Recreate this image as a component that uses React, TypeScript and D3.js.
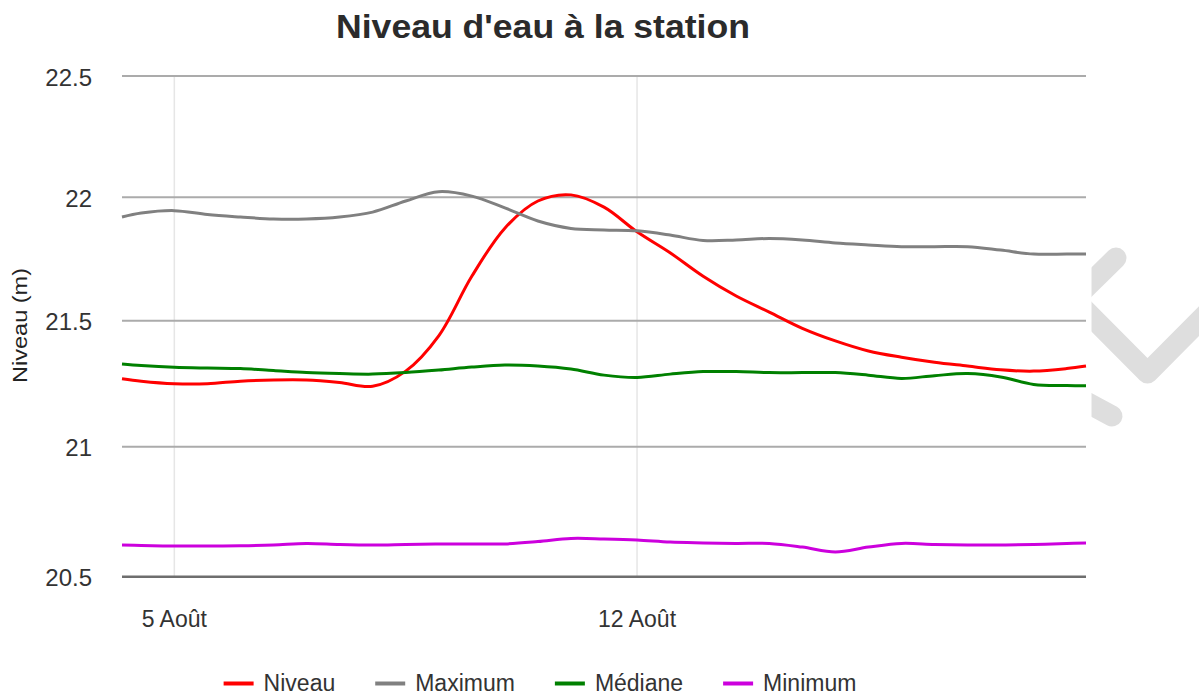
import React from "react";
import * as d3 from "d3";

// relevés toutes les 12 h (bords du graphique aux extrémités)
const dates = [
  "2019-08-04 05:00", "2019-08-04 12:00", "2019-08-05 00:00", "2019-08-05 12:00",
  "2019-08-06 00:00", "2019-08-06 12:00", "2019-08-07 00:00", "2019-08-07 12:00",
  "2019-08-08 00:00", "2019-08-08 12:00", "2019-08-09 00:00", "2019-08-09 12:00",
  "2019-08-10 00:00", "2019-08-10 12:00", "2019-08-11 00:00", "2019-08-11 12:00",
  "2019-08-12 00:00", "2019-08-12 12:00", "2019-08-13 00:00", "2019-08-13 12:00",
  "2019-08-14 00:00", "2019-08-14 12:00", "2019-08-15 00:00", "2019-08-15 12:00",
  "2019-08-16 00:00", "2019-08-16 12:00", "2019-08-17 00:00", "2019-08-17 12:00",
  "2019-08-18 00:00", "2019-08-18 12:00", "2019-08-18 19:00",
];

const niveau = [21.27, 21.26, 21.25, 21.25, 21.26, 21.265, 21.265, 21.255, 21.24, 21.30, 21.44, 21.68, 21.875, 21.985, 22.01, 21.96, 21.86, 21.775, 21.68, 21.60, 21.535, 21.47, 21.42, 21.38, 21.355, 21.335, 21.32, 21.305, 21.30, 21.31, 21.32];
const maximum = [21.92, 21.936, 21.946, 21.93, 21.92, 21.912, 21.912, 21.92, 21.94, 21.985, 22.023, 22.005, 21.957, 21.904, 21.874, 21.868, 21.864, 21.847, 21.825, 21.827, 21.833, 21.827, 21.815, 21.807, 21.80, 21.80, 21.80, 21.786, 21.77, 21.77, 21.77];
const mediane = [21.328, 21.322, 21.315, 21.312, 21.31, 21.302, 21.294, 21.29, 21.288, 21.294, 21.304, 21.316, 21.324, 21.32, 21.308, 21.284, 21.275, 21.288, 21.298, 21.298, 21.294, 21.294, 21.294, 21.284, 21.271, 21.282, 21.29, 21.277, 21.247, 21.243, 21.242];
const minimum = [20.622, 20.62, 20.618, 20.618, 20.619, 20.622, 20.628, 20.624, 20.622, 20.624, 20.626, 20.626, 20.626, 20.635, 20.647, 20.645, 20.641, 20.633, 20.63, 20.628, 20.628, 20.614, 20.595, 20.614, 20.628, 20.624, 20.622, 20.622, 20.624, 20.628, 20.63];

const seriesNames = ["Niveau", "Maximum", "Médiane", "Minimum"];
const seriesColors = ["#ff0000", "#808080", "#008000", "#cc00dd"];
const yTicks = [20.5, 21, 21.5, 22, 22.5];
const xTicks = ["2019-08-05 00:00", "2019-08-12 00:00"];
const moisFr = ["Janv.", "Févr.", "Mars", "Avr.", "Mai", "Juin", "Juil.", "Août", "Sept.", "Oct.", "Nov.", "Déc."];

const font = "'Liberation Sans', Arial, sans-serif";

const measure = (txt: string, size: number) => {
  const ctx = document.createElement("canvas").getContext("2d");
  if (!ctx) return txt.length * size * 0.55;
  ctx.font = `${size}px ${font}`;
  return ctx.measureText(txt).width;
};

export default function App() {
  const width = 1199;
  const height = 696;
  const left = 122;
  const right = 1086;
  const parse = d3.timeParse("%Y-%m-%d %H:%M");
  const times = dates.map((d) => parse(d) as Date);

  const x = d3.scaleTime(d3.extent(times) as [Date, Date], [left, right]);
  // échelle par morceaux : l'image d'origine n'a pas un espacement vertical régulier
  const y = d3.scaleLinear([20.5, 21, 21.5, 22, 22.5], [576.7, 446.7, 320.7, 197.3, 76]);

  const all = [niveau, maximum, mediane, minimum];
  const line = d3
    .line<number>()
    .x((_, i) => x(times[i]))
    .y((v) => y(v))
    .curve(d3.curveCatmullRom.alpha(0.5));

  const top = y(22.5);
  const bottom = y(20.5);

  // légende centrée
  const legendSize = 23;
  const sw = 30;
  const gapText = 10;
  const gapItem = 40;
  const widths = seriesNames.map((n) => sw + gapText + measure(n, legendSize));
  const total = d3.sum(widths) + gapItem * (seriesNames.length - 1);
  let cur = 540 - total / 2;
  const legendX = widths.map((w) => {
    const p = cur;
    cur += w + gapItem;
    return p;
  });

  return (
    <svg width={width} height={height} style={{position: "absolute", left: 0, top: 0}} fontFamily={font}>
      <rect width={width} height={height} fill="white"/>
      {/* motif gris décoratif, à droite */}
      <g fill="none" stroke="#dedede" strokeWidth={21} strokeLinecap="round" strokeLinejoin="round">
        <path d="M1060,313 L1116,258"/>
        <path d="M1060,285 L1147.5,373 L1215,305"/>
        <path d="M1060,388 L1112,416"/>
      </g>
      <rect x={0} y={0} width={1091.5} height={height} fill="white"/>

      <text x={543} y={38} textAnchor="middle" fontSize={33} fontWeight="bold" fill="#2b2b2b"
            textLength={414} lengthAdjust="spacingAndGlyphs">
        Niveau d'eau à la station
      </text>

      {xTicks.map((t) => {
        const d = parse(t) as Date;
        return (
          <g key={t}>
            <line x1={x(d)} x2={x(d)} y1={top} y2={bottom} stroke="#e6e6e6" strokeWidth={1.5}/>
            <text x={x(d)} y={627} textAnchor="middle" fontSize={23} fill="#333">
              {`${d.getDate()} ${moisFr[d.getMonth()]}`}
            </text>
          </g>
        );
      })}

      {yTicks.map((t) => (
        <g key={t}>
          <line x1={left} x2={right} y1={y(t)} y2={y(t)}
                stroke={t === 20.5 ? "#6e6e6e" : "#ababab"} strokeWidth={t === 20.5 ? 2.5 : 2}/>
          <text x={92} y={y(t) + 9.5} textAnchor="end" fontSize={24} fill="#333">
            {String(t)}
          </text>
        </g>
      ))}

      <text transform={`translate(27,325.5) rotate(-90)`} textAnchor="middle" fontSize={21}
            fill="#222" textLength={115} lengthAdjust="spacingAndGlyphs">
        Niveau (m)
      </text>

      {all.map((s, i) => (
        <path key={seriesNames[i]} d={line(s) as string} fill="none" stroke={seriesColors[i]}
              strokeWidth={3} strokeLinejoin="round"/>
      ))}

      {seriesNames.map((n, i) => (
        <g key={n} transform={`translate(${legendX[i]},0)`}>
          <line x1={0} x2={sw} y1={683.5} y2={683.5} stroke={seriesColors[i]} strokeWidth={4}/>
          <text x={sw + gapText} y={691} fontSize={legendSize} fill="#333">{n}</text>
        </g>
      ))}
    </svg>
  );
}
